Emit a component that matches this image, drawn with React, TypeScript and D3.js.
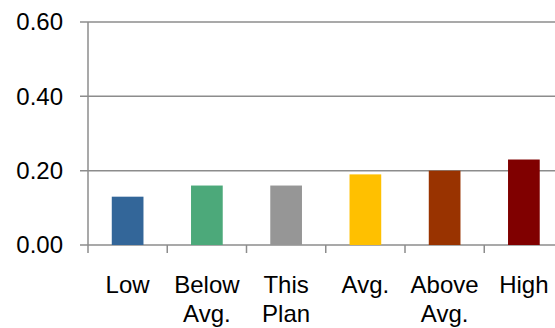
import React from "react";
import * as d3 from "d3";

const categories = ["Low", "Below Avg.", "This Plan", "Avg.", "Above Avg.", "High"];
const labelLines = [["Low"], ["Below", "Avg."], ["This", "Plan"], ["Avg."], ["Above", "Avg."], ["High"]];
const values = [0.13, 0.16, 0.16, 0.19, 0.2, 0.23];
const colors = ["#336699", "#4CA97A", "#969696", "#FFC000", "#993300", "#800000"];
const yTicks = [0, 0.2, 0.4, 0.6];

export default function App() {
  const W = 555, H = 328;
  const left = 88, right = 563.5, top = 22, bottom = 245;
  const x = d3.scaleBand<string>().domain(categories).range([left, right]).paddingInner(0).paddingOuter(0);
  const y = d3.scaleLinear().domain([0, 0.6]).range([bottom, top]);
  const bw = x.bandwidth() * 0.4;
  const font = "'Liberation Sans', Arial, sans-serif";
  const grid = "#8c8c8c";
  return (
    <svg width={W} height={H} style={{ position: "absolute", left: 0, top: 0 }}>
      <rect width={W} height={H} fill="#fff" />
      {yTicks.map((t) => (
        <g key={t}>
          <line x1={80} x2={W} y1={y(t)} y2={y(t)} stroke={grid} strokeWidth={1.5} />
          <text x={63} y={y(t)} dy="0.35em" textAnchor="end" fontFamily={font} fontSize={24} fill="#000">
            {t.toFixed(2)}
          </text>
        </g>
      ))}
      <line x1={left} x2={left} y1={top} y2={bottom + 8} stroke={grid} strokeWidth={1.5} />
      {categories.map((c) => (
        <line key={"t" + c} x1={(x(c) as number) + x.bandwidth()} x2={(x(c) as number) + x.bandwidth()} y1={bottom} y2={bottom + 8} stroke={grid} strokeWidth={1.5} />
      ))}
      {categories.map((c, i) => (
        <rect key={c} x={(x(c) as number) + (x.bandwidth() - bw) / 2} y={y(values[i])} width={bw} height={y(0) - y(values[i])} fill={colors[i]} />
      ))}
      {categories.map((c, i) => (
        <text key={"l" + c} x={(x(c) as number) + x.bandwidth() / 2} y={293} textAnchor="middle" fontFamily={font} fontSize={24} fill="#000">
          {labelLines[i].map((ln, j) => (
            <tspan key={j} x={(x(c) as number) + x.bandwidth() / 2} dy={j === 0 ? 0 : 29}>{ln}</tspan>
          ))}
        </text>
      ))}
    </svg>
  );
}
